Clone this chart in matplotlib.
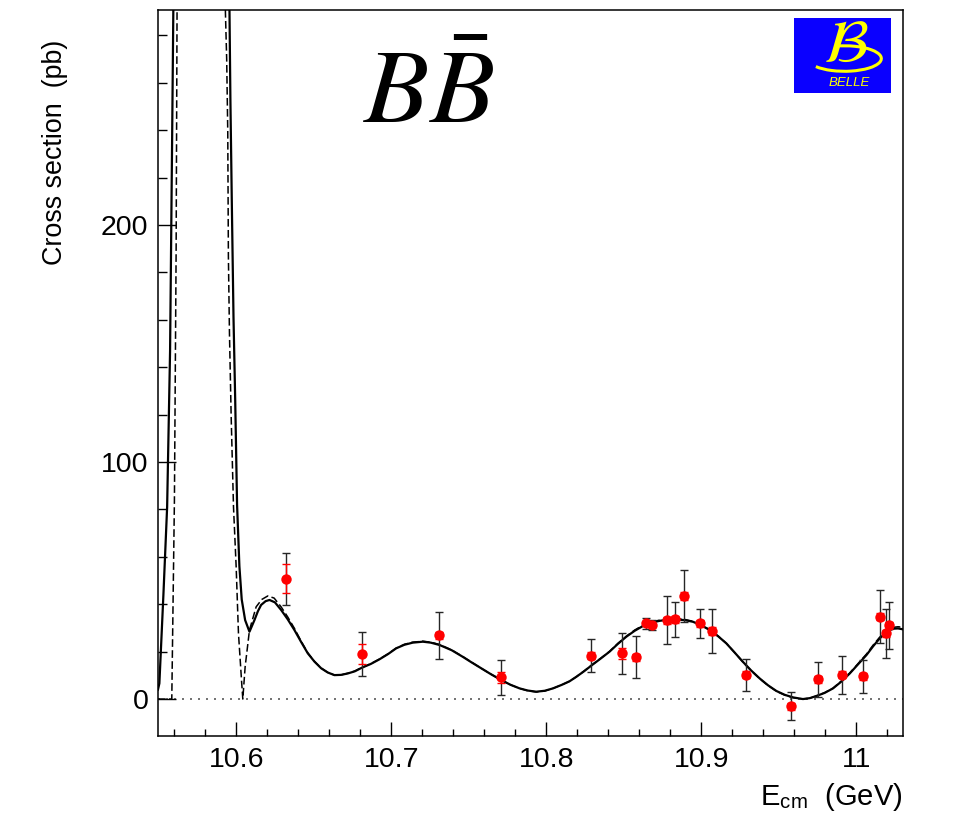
"""e+e- -> BB cross section vs. centre-of-mass energy.

Scan points with stat (red) and total (black) errors, the fitted line
shape (solid) and the unsmeared line shape (dashed).
"""
import numpy as np
import matplotlib
matplotlib.use("Agg")
import matplotlib.pyplot as plt
from matplotlib.patches import Arc
from matplotlib.ticker import MultipleLocator

plt.rcParams["font.family"] = ["Liberation Sans", "DejaVu Sans"]
plt.rcParams["mathtext.fontset"] = "stix"

# scan points
E_pts = [10.632, 10.681, 10.731, 10.771, 10.829, 10.849, 10.858, 10.8645,
         10.868, 10.878, 10.883, 10.889, 10.899, 10.907, 10.929, 10.958,
         10.975, 10.991, 11.004, 11.015, 11.019, 11.021]
xs_pts = [50.8, 19.1, 26.9, 9.2, 18.3, 19.3, 17.6, 31.9, 31.2, 33.3, 33.6,
          43.5, 31.9, 28.7, 10.3, -3.0, 8.3, 10.3, 9.6, 34.7, 27.7, 31.2]
err_tot = [11.0, 9.4, 10.0, 7.4, 7.0, 8.7, 8.8, 2.2, 2.0, 10.1, 7.5, 10.8,
           6.3, 9.2, 6.8, 6.0, 7.5, 8.0, 7.0, 11.2, 10.5, 9.9]
err_stat = [6.0, 4.2, 1.5, 2.3, 1.5, 2.3, 1.5, 0.6, 0.6, 1.5, 1.5, 1.5, 1.5,
            1.6, 1.5, 1.5, 1.5, 1.5, 1.5, 1.5, 1.5, 1.5]

# fitted line shape (with beam spread)
E_fit = [10.5496, 10.5505, 10.5531, 10.5555, 10.5574, 10.5587, 10.5595,
         10.5602, 10.5950, 10.5957, 10.5963, 10.5972, 10.5983, 10.5994,
         10.6006, 10.6021, 10.6036, 10.6058, 10.6086, 10.6118, 10.6140,
         10.6161, 10.6190, 10.6215, 10.6250, 10.6290, 10.6333, 10.6376,
         10.6419, 10.6462, 10.6505, 10.6548, 10.6591, 10.6634, 10.6677,
         10.6720, 10.6765, 10.6810, 10.6868, 10.6925, 10.6980, 10.7032,
         10.7085, 10.7139, 10.7204, 10.7255, 10.7312, 10.7390, 10.7462,
         10.7515, 10.7570, 10.7640, 10.7710, 10.7770, 10.7828, 10.7880,
         10.7935, 10.7990, 10.8043, 10.8100, 10.8150, 10.8194, 10.8245,
         10.8294, 10.8351, 10.8408, 10.8462, 10.8516, 10.8570, 10.8623,
         10.8677, 10.8731, 10.8785, 10.8839, 10.8892, 10.8946, 10.9000,
         10.9054, 10.9108, 10.9161, 10.9215, 10.9268, 10.9322, 10.9376,
         10.9430, 10.9484, 10.9537, 10.9591, 10.9655, 10.9700, 10.9742,
         10.9795, 10.9849, 10.9903, 10.9957, 11.0011, 11.0065, 11.0108,
         11.0150, 11.0183, 11.0215, 11.0242, 11.0268, 11.0301]
xs_fit = [4.0, 6.6, 44.0, 81.0, 147.0, 235.0, 291.0, 330.0, 329.0, 291.0,
          253.0, 210.0, 161.0, 126.0, 82.0, 56.0, 42.0, 33.3, 28.4, 33.3,
          37.0, 39.7, 41.3, 41.8, 40.8, 37.6, 33.6, 29.1, 24.1, 19.3, 15.8,
          13.0, 11.2, 10.1, 10.2, 10.8, 11.7, 13.2, 14.8, 16.8, 19.0, 21.4,
          22.9, 23.8, 24.2, 23.8, 22.8, 20.6, 17.8, 15.6, 13.4, 10.6, 8.0,
          6.0, 4.5, 3.6, 3.1, 3.5, 4.5, 6.0, 7.5, 9.4, 11.8, 14.3, 17.1,
          20.0, 23.3, 26.3, 28.8, 30.8, 32.2, 33.0, 33.5, 33.6, 33.3, 32.6,
          31.1, 29.1, 26.5, 23.5, 19.6, 15.7, 12.0, 8.7, 5.8, 3.4, 1.8, 0.7,
          0.0, 0.4, 1.3, 2.6, 4.5, 7.4, 10.8, 14.7, 18.6, 22.3, 25.6, 27.6,
          29.1, 29.7, 29.8, 29.4]

# Born-level line shape
E_born = [10.5496, 10.5585, 10.5602, 10.5613, 10.5619, 10.5622, 10.5925,
          10.5931, 10.5939, 10.5946, 10.5950, 10.5957, 10.5968, 10.5983,
          10.6000, 10.6015, 10.6036, 10.6043, 10.6058, 10.6086, 10.6129,
          10.6165, 10.6204, 10.6245, 10.6290, 10.6333, 10.6376, 10.6419,
          10.6462, 10.6505, 10.6548, 10.6591, 10.6634, 10.6677, 10.6720,
          10.6765, 10.6810, 10.6868, 10.6925, 10.6980, 10.7032, 10.7085,
          10.7139, 10.7204, 10.7255, 10.7312, 10.7390, 10.7462, 10.7515,
          10.7570, 10.7640, 10.7710, 10.7770, 10.7828, 10.7880, 10.7935,
          10.7990, 10.8043, 10.8100, 10.8150, 10.8194, 10.8245, 10.8294,
          10.8351, 10.8408, 10.8462, 10.8516, 10.8570, 10.8623, 10.8677,
          10.8731, 10.8785, 10.8839, 10.8892, 10.8946, 10.9000, 10.9054,
          10.9108, 10.9161, 10.9215, 10.9268, 10.9322, 10.9376, 10.9430,
          10.9484, 10.9537, 10.9591, 10.9655, 10.9700, 10.9742, 10.9795,
          10.9849, 10.9903, 10.9957, 11.0011, 11.0065, 11.0108, 11.0150,
          11.0183, 11.0215, 11.0242, 11.0268, 11.0301]
xs_born = [0.0, 0.0, 84.0, 189.0, 291.0, 330.0, 330.0, 289.5, 270.0, 239.0,
           187.0, 154.0, 119.0, 81.0, 56.0, 27.7, 6.6, 0.0, 13.6, 29.1,
           38.9, 42.0, 43.5, 42.6, 38.9, 34.6, 29.8, 24.4, 19.5, 15.9, 13.1,
           11.2, 10.1, 10.2, 10.9, 11.8, 13.3, 14.9, 16.9, 19.1, 21.5, 23.1,
           24.0, 24.4, 24.0, 23.0, 20.7, 17.9, 15.7, 13.4, 10.6, 8.0, 6.0,
           4.5, 3.5, 3.0, 3.4, 4.5, 6.0, 7.5, 9.4, 11.9, 14.4, 17.2, 20.1,
           23.5, 26.5, 29.1, 31.1, 32.5, 33.3, 33.8, 33.9, 33.6, 32.8, 31.3,
           29.2, 26.6, 23.5, 19.6, 15.6, 11.9, 8.6, 5.7, 3.3, 1.7, 0.6, 0.0,
           0.4, 1.3, 2.7, 4.6, 7.6, 11.0, 15.0, 19.0, 22.8, 26.1, 28.2, 29.7,
           30.3, 30.5, 30.3]


def draw_logo(fig):
    lax = fig.add_axes([0.8323, 0.8864, 0.1017, 0.0916])
    lax.set_facecolor("#0a00ff")
    lax.set_xlim(0, 1)
    lax.set_ylim(0, 1)
    lax.set_xticks([])
    lax.set_yticks([])
    for sp in lax.spines.values():
        sp.set_visible(False)
    # swoosh under the letter
    lax.add_patch(Arc((0.52, 0.46), 0.76, 0.34, theta1=200, theta2=480,
                      color="#ffff00", lw=2.2))
    lax.text(0.53, 0.62, r"$\mathcal{B}$", color="#ffff00", fontsize=44,
             ha="center", va="center", transform=lax.transAxes)
    lax.text(0.57, 0.13, "BELLE", color="#ffff00", fontsize=9.5,
             style="italic", ha="center", va="center",
             transform=lax.transAxes)


def draw():
    fig = plt.figure(figsize=(9.54, 8.19), dpi=100)
    ax = fig.add_axes([0.1656, 0.1013, 0.7809, 0.8865])

    ax.axhline(0, color="0.35", lw=1.2, ls=(0, (1.2, 3.6)), zorder=1)
    ax.plot(E_born, xs_born, color="black", lw=1.1, ls=(0, (5, 2.2)),
            zorder=2)
    ax.plot(E_fit, xs_fit, color="black", lw=1.6, zorder=3)

    ax.errorbar(E_pts, xs_pts, yerr=err_tot, fmt="none", ecolor="0.15",
                elinewidth=1.0, capsize=3.0, capthick=1.0, zorder=4)
    ax.errorbar(E_pts, xs_pts, yerr=err_stat, fmt="none", ecolor="red",
                elinewidth=1.0, capsize=3.0, capthick=1.0, zorder=5)
    ax.plot(E_pts, xs_pts, "o", color="red", ms=7.5, mew=0, zorder=6)

    ax.set_xlim(10.5496, 11.0300)
    ax.set_ylim(-15.6, 290.7)

    ax.xaxis.set_minor_locator(MultipleLocator(0.02))
    ax.yaxis.set_minor_locator(MultipleLocator(20))
    ax.set_xticks([10.6, 10.7, 10.8, 10.9, 11.0])
    ax.set_xticklabels(["10.6", "10.7", "10.8", "10.9", "11"])
    ax.set_yticks([0, 100, 200])

    ax.tick_params(axis="both", which="both", direction="in",
                   top=False, right=False, labelsize=20.5, width=1.0)
    ax.tick_params(axis="x", which="major", length=10, pad=8)
    ax.tick_params(axis="x", which="minor", length=5)
    ax.tick_params(axis="y", which="major", length=13, pad=7)
    ax.tick_params(axis="y", which="minor", length=6.5)
    for sp in ax.spines.values():
        sp.set_linewidth(1.1)

    fig.text(55 / 954, 1 - 40 / 819, "Cross section  (pb)", rotation=90,
             ha="center", va="top", fontsize=19.4)
    fig.text(903 / 954, 1 - 797 / 819, r"E$_\mathregular{cm}$  (GeV)",
             ha="right", va="center", fontsize=21)

    fig.text(363 / 954, 1 - 123 / 819, r"$B\bar{B}$", fontsize=77,
             ha="left", va="baseline")

    draw_logo(fig)
    return fig, ax


def main():
    fig, ax = draw()
    fig.savefig("out.png", dpi=100)


if __name__ == "__main__":
    main()
